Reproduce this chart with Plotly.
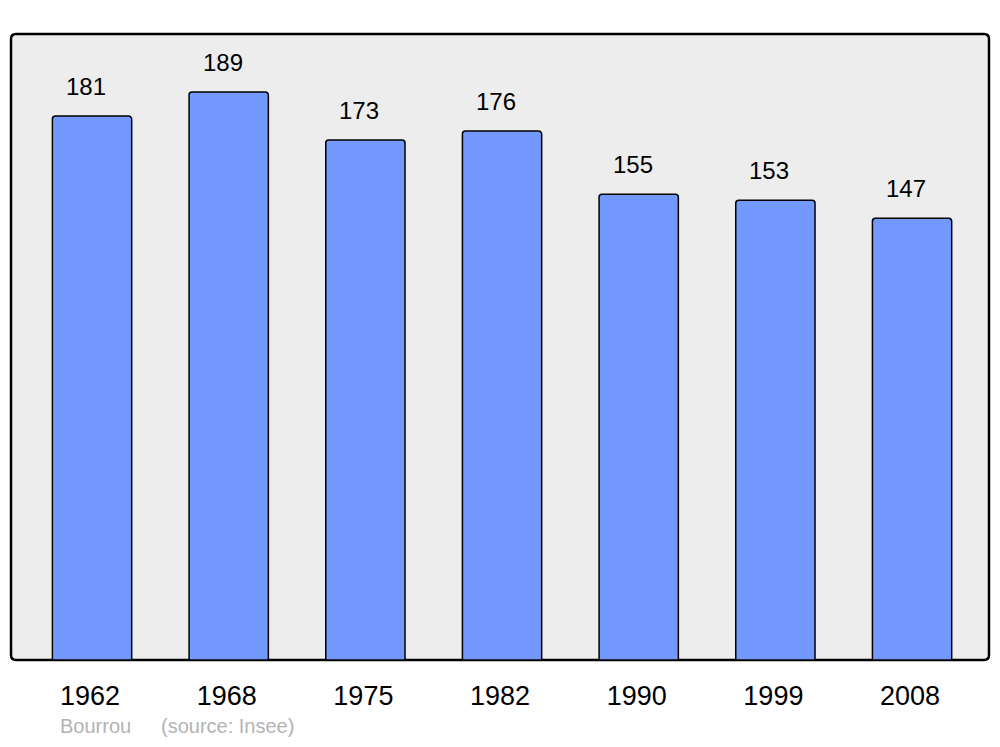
import plotly.graph_objects as go

years = ["1962", "1968", "1975", "1982", "1990", "1999", "2008"]
population = [181, 189, 173, 176, 155, 153, 147]

positions = list(range(len(years)))

# the page has an 8px body margin, so the figure is 16px smaller than the window
W, H = 984, 731
ml, mr, mt, mb = 3, 3, 26, 79
pw, ph = W - ml - mr, H - mt - mb

fig = go.Figure()

fig.add_trace(go.Bar(
    x=positions,
    y=population,
    width=0.58,
    marker=dict(color="#7399ff", line=dict(color="#000000", width=1.5), cornerradius=3),
    hoverinfo="x+y",
))

# value labels above each bar
annotations = []
for pos, val in zip(positions, population):
    annotations.append(dict(
        x=pos, y=val, xref="x", yref="y", text=str(val), showarrow=False,
        xanchor="center", yanchor="bottom", yshift=14, xshift=-6,
        font=dict(family="Liberation Sans, Arial", size=24, color="#000000"),
    ))

# footer, placed in figure pixels then turned into paper coordinates
footer_y = (H - 718 - mb) / ph
for text, px in [("Bourrou", 50), ("(source: Insee)", 151)]:
    annotations.append(dict(
        x=(px - ml) / pw, y=footer_y, xref="paper", yref="paper", text=text,
        showarrow=False, xanchor="left", yanchor="middle",
        font=dict(family="Liberation Sans, Arial", size=20, color="#b3b3b3"),
    ))

# rounded frame around the plot area
r = 5
rx, ry = r / pw, r / ph
frame_path = (
    f"M {rx},0 L {1 - rx},0 Q 1,0 1,{ry} L 1,{1 - ry} Q 1,1 {1 - rx},1 "
    f"L {rx},1 Q 0,1 0,{1 - ry} L 0,{ry} Q 0,0 {rx},0 Z"
)

fig.update_layout(
    width=W, height=H,
    margin=dict(l=ml, r=mr, t=mt, b=mb),
    paper_bgcolor="#ffffff",
    plot_bgcolor="rgba(0,0,0,0)",
    showlegend=False,
    annotations=annotations,
    shapes=[dict(type="path", xref="paper", yref="paper", path=frame_path,
                 fillcolor="#ededed", line=dict(color="#000000", width=2.5),
                 layer="below")],
    xaxis=dict(
        range=[-0.593, 6.563],
        tickvals=positions, ticktext=years,
        ticks="outside", ticklen=12, tickcolor="rgba(0,0,0,0)",
        ticklabelshift=-2,
        showgrid=False, zeroline=False, showline=False,
        tickfont=dict(family="Liberation Sans, Arial", size=27, color="#000000"),
    ),
    yaxis=dict(
        range=[0, 208.3],
        showticklabels=False, showgrid=False, zeroline=False, showline=False,
    ),
)

fig.write_html("out.html")
